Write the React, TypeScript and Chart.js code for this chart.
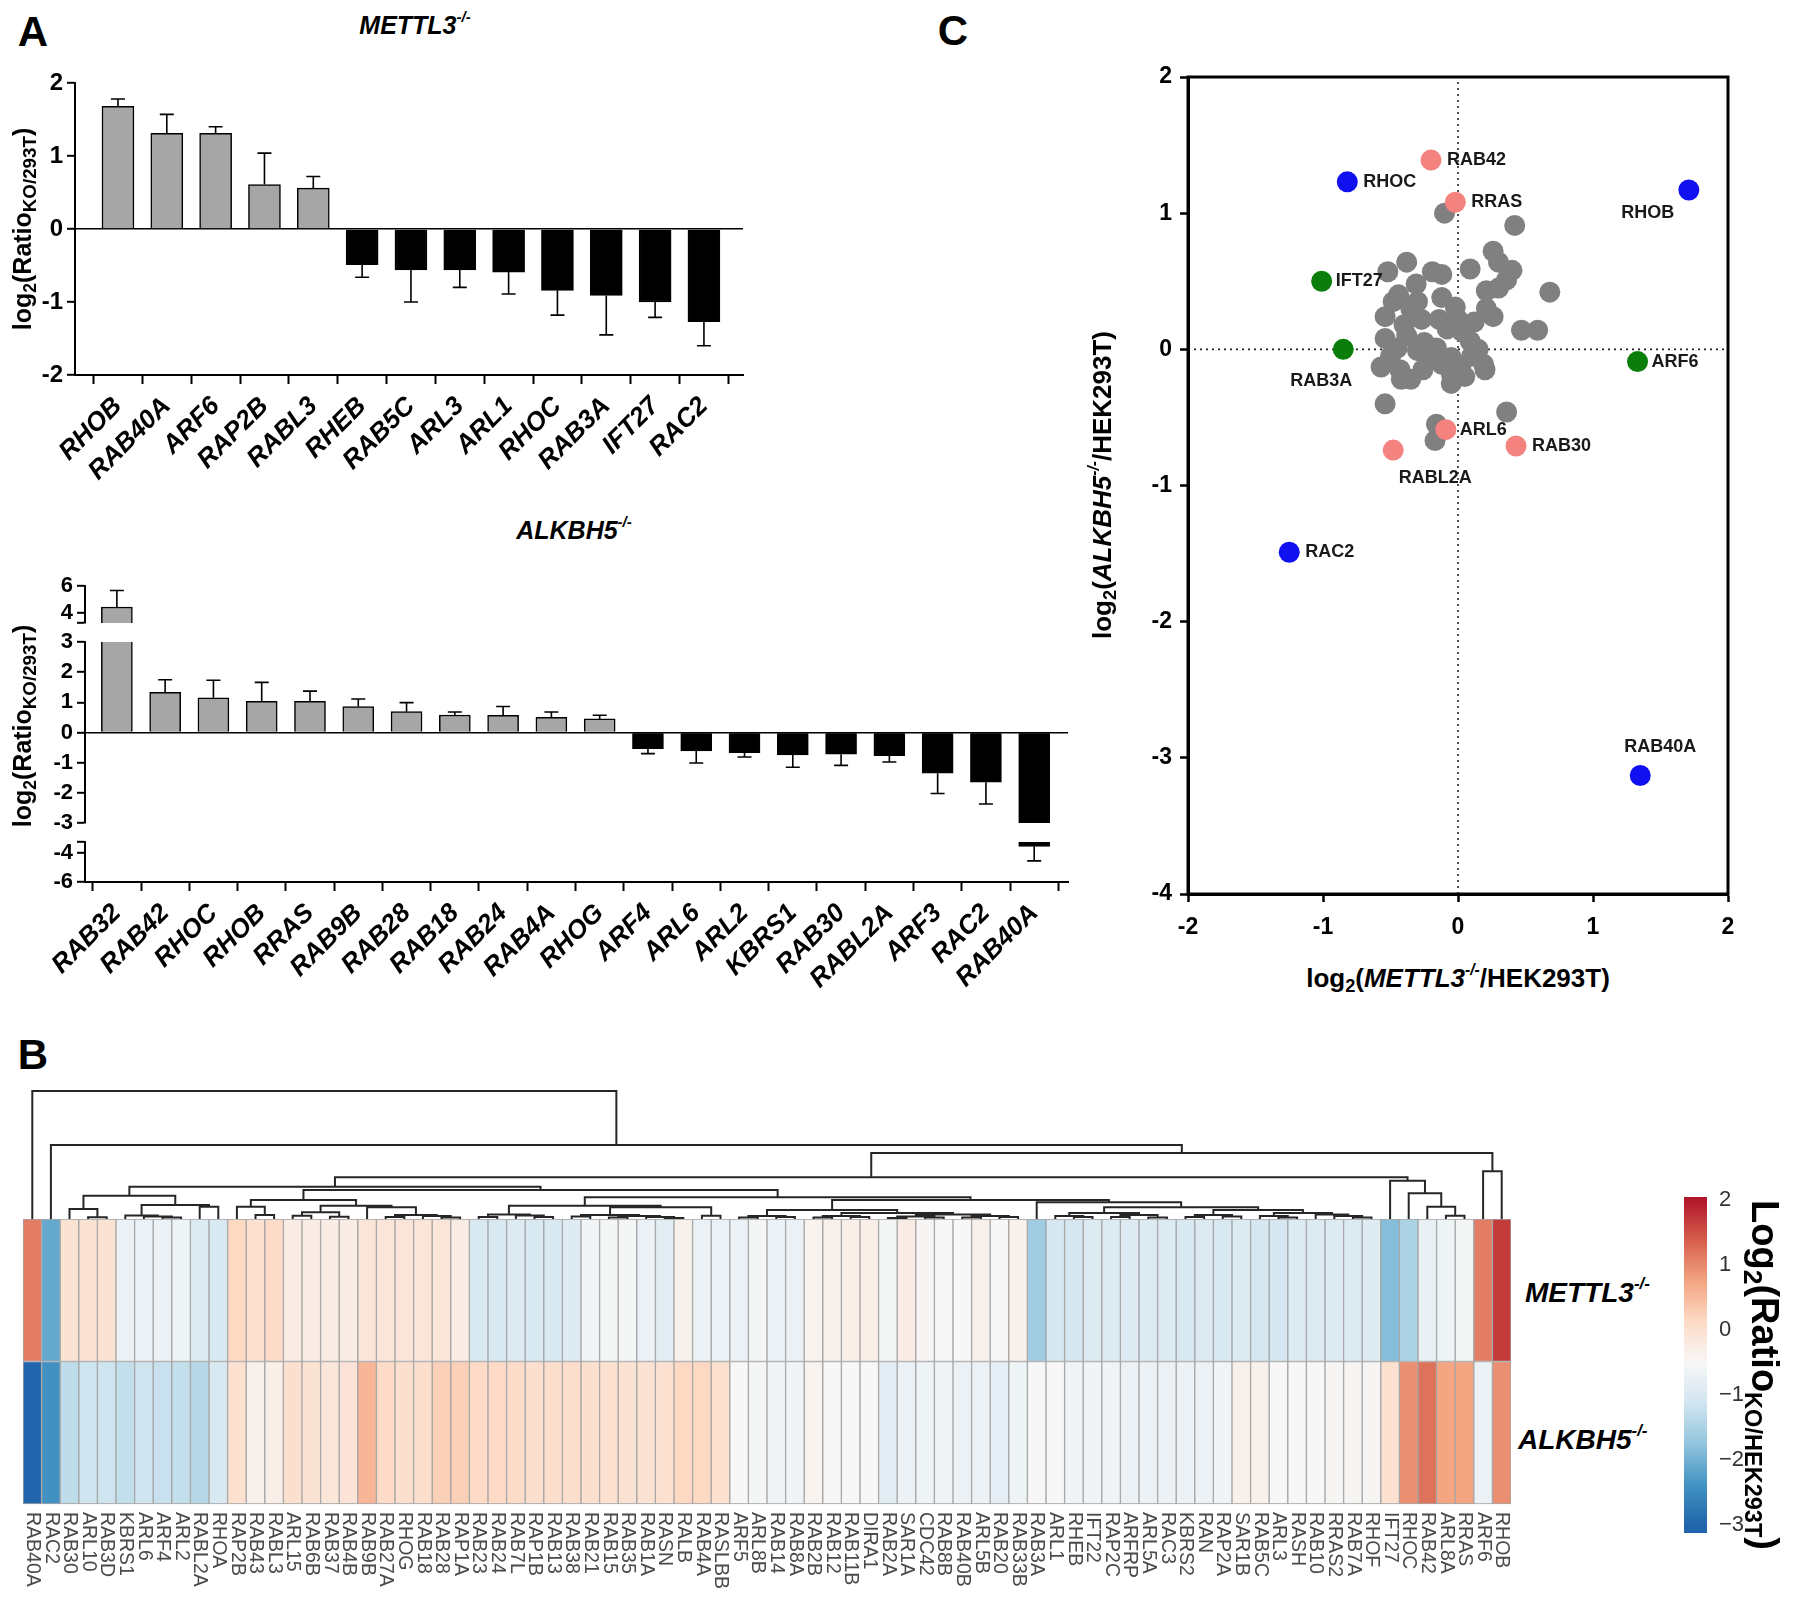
import React, { useEffect, useRef } from 'react';
import { Chart, registerables } from 'chart.js';

Chart.register(...registerables);

const FONT = '"Liberation Sans", Arial, Helvetica, sans-serif';

// ---------------- Panel A (top): METTL3-/- ----------------
const mettl3Genes = ['RHOB', 'RAB40A', 'ARF6', 'RAP2B', 'RABL3', 'RHEB', 'RAB5C', 'ARL3', 'ARL1', 'RHOC', 'RAB3A', 'IFT27', 'RAC2'];
const mettl3Values = [1.68, 1.31, 1.31, 0.61, 0.56, -0.49, -0.56, -0.56, -0.59, -0.84, -0.91, -1.0, -1.27];
const mettl3ErrEnds = [1.78, 1.57, 1.4, 1.04, 0.72, -0.66, -1.0, -0.8, -0.89, -1.18, -1.45, -1.21, -1.6];

// ---------------- Panel A (bottom): ALKBH5-/- ----------------
const alkbh5Genes = ['RAB32', 'RAB42', 'RHOC', 'RHOB', 'RRAS', 'RAB9B', 'RAB28', 'RAB18', 'RAB24', 'RAB4A', 'RHOG', 'ARF4', 'ARL6', 'ARL2', 'KBRS1', 'RAB30', 'RABL2A', 'ARF3', 'RAC2', 'RAB40A'];
const alkbh5Values = [4.44, 1.33, 1.15, 1.03, 1.03, 0.86, 0.69, 0.58, 0.57, 0.5, 0.45, -0.54, -0.61, -0.67, -0.74, -0.72, -0.77, -1.35, -1.65, -3.55];
const alkbh5ErrEnds = [5.66, 1.75, 1.73, 1.66, 1.37, 1.11, 0.99, 0.68, 0.86, 0.68, 0.57, -0.7, -1.01, -0.81, -1.15, -1.09, -0.98, -2.02, -2.37, -4.55];

// ---------------- Panel C: scatter ----------------
const grayPoints: [number, number][] = [
  [-0.1, 1.0], [0.42, 0.91], [0.26, 0.72], [0.3, 0.64], [0.4, 0.58], [0.36, 0.51], [0.09, 0.59],
  [-0.52, 0.57], [-0.38, 0.64], [-0.19, 0.57], [-0.12, 0.55], [-0.31, 0.48], [-0.44, 0.4], [-0.12, 0.38],
  [0.21, 0.43], [0.68, 0.42], [-0.54, 0.24], [-0.27, 0.22], [-0.14, 0.22], [-0.02, 0.31], [0.0, 0.22],
  [0.21, 0.3], [0.26, 0.24], [0.47, 0.14], [0.59, 0.14], [-0.54, 0.08], [-0.38, 0.1], [-0.45, 0.01],
  [-0.3, -0.01], [-0.16, 0.01], [0.03, 0.13], [0.09, 0.06], [0.12, -0.04], [-0.05, -0.06], [-0.12, -0.11],
  [-0.57, -0.13], [-0.43, -0.15], [-0.26, -0.15], [-0.35, -0.22], [-0.42, -0.22], [-0.05, -0.25], [0.05, -0.2],
  [0.19, -0.11], [0.02, -0.13], [-0.54, -0.4], [0.36, -0.46], [-0.16, -0.55], [-0.17, -0.67], [-0.48, 0.35],
  [-0.25, 0.05], [-0.2, -0.05], [0.1, -0.05], [0.15, 0.0], [-0.35, 0.3], [0.05, 0.12], [-0.08, 0.15],
  [0.2, -0.15], [-0.5, -0.05], [-0.3, 0.35], [0.3, 0.45], [-0.05, -0.18], [-0.4, 0.18], [0.12, 0.2]
];
const hlNames = ['RHOC', 'RHOB', 'RAC2', 'RAB40A', 'RAB42', 'RRAS', 'ARL6', 'RAB30', 'RABL2A', 'IFT27', 'RAB3A', 'ARF6'];
const hlX = [-0.82, 1.71, -1.25, 1.35, -0.2, -0.02, -0.09, 0.43, -0.48, -1.01, -0.85, 1.33];
const hlY = [1.23, 1.17, -1.49, -3.13, 1.39, 1.08, -0.59, -0.71, -0.74, 0.5, 0.0, -0.09];
const hlGroup = ['blue', 'blue', 'blue', 'blue', 'pink', 'pink', 'pink', 'pink', 'pink', 'green', 'green', 'green'];
// label placement (style only): [dx, dy, align]
const hlLabelPlace: [number, number, string][] = [
  [16, 0, 'left'], [-41, 23, 'center'], [16, 0, 'left'], [20, -29, 'center'], [16, 0, 'left'], [16, 0, 'left'],
  [14, 0, 'left'], [16, 0, 'left'], [42, 28, 'center'], [14, 0, 'left'], [-22, 32, 'center'], [14, 0, 'left']
];

// ---------------- Panel B: heatmap ----------------
const heatGenes = [
  'RAB40A', 'RAC2', 'RAB30', 'ARL10', 'RAB3D', 'KBRS1', 'ARL6', 'ARF4', 'ARL2', 'RABL2A',
  'RHOA', 'RAP2B', 'RAB43', 'RABL3', 'ARL15', 'RAB6B', 'RAB37', 'RAB4B', 'RAB9B', 'RAB27A',
  'RHOG', 'RAB18', 'RAB28', 'RAP1A', 'RAB23', 'RAB24', 'RAB7L', 'RAP1B', 'RAB13', 'RAB38',
  'RAB21', 'RAB15', 'RAB35', 'RAB1A', 'RASN', 'RALB', 'RAB4A', 'RASLBB', 'ARF5', 'ARL8B',
  'RAB14', 'RAB8A', 'RAB2B', 'RAB12', 'RAB11B', 'DIRA1', 'RAB2A', 'SAR1A', 'CDC42', 'RAB8B',
  'RAB40B', 'ARL5B', 'RAB20', 'RAB33B', 'RAB3A', 'ARL1', 'RHEB', 'IFT22', 'RAP2C', 'ARFRP',
  'ARL5A', 'RAC3', 'KBRS2', 'RAN', 'RAP2A', 'SAR1B', 'RAB5C', 'ARL3', 'RASH', 'RAB10',
  'RRAS2', 'RAB7A', 'RHOF', 'IFT27', 'RHOC', 'RAB42', 'ARL8A', 'RRAS', 'ARF6', 'RHOB'
];
const heatMettl3 = [
  1.1, -2.1, -0.05, -0.05, -0.05, -0.7, -0.7, -0.7, -0.65, -0.95,
  -1.0, 0.15, 0.0, 0.1, -0.25, -0.25, -0.25, -0.25, -0.1, -0.1,
  -0.1, -0.1, -0.1, -0.25, -1.0, -1.0, -0.95, -1.0, -1.0, -0.9,
  -0.6, -0.55, -0.55, -0.7, -0.85, -0.35, -0.7, -0.7, -0.7, -0.55,
  -0.7, -0.7, -0.4, -0.35, -0.3, -0.3, -0.55, -0.25, -0.45, -0.5,
  -0.5, -0.35, -0.5, -0.35, -1.6, -1.05, -1.05, -0.95, -0.95, -0.9,
  -0.95, -0.95, -1.0, -0.95, -1.0, -0.95, -1.05, -1.05, -0.95, -0.95,
  -0.95, -0.95, -0.9, -1.85, -1.5, -0.75, -0.65, -0.55, 1.1, 1.7
];
const heatAlkbh5 = [
  -3.0, -2.4, -1.3, -1.15, -1.15, -1.25, -1.15, -1.2, -1.25, -1.4,
  -1.0, 0.0, -0.35, -0.3, 0.02, -0.05, -0.12, -0.08, 0.55, 0.12,
  0.02, 0.05, 0.25, 0.25, 0.12, 0.12, 0.08, 0.04, 0.05, 0.05,
  0.02, 0.0, -0.05, -0.05, 0.0, 0.15, 0.15, 0.0, -0.5, -0.55,
  -0.6, -0.6, -0.4, -0.5, -0.5, -0.5, -0.85, -0.7, -0.65, -0.6,
  -0.7, -0.7, -0.8, -0.65, -0.5, -0.5, -0.6, -0.6, -0.6, -0.7,
  -0.7, -0.7, -0.7, -0.7, -0.6, -0.35, -0.35, -0.5, -0.5, -0.5,
  -0.45, -0.45, -0.45, 0.0, 0.95, 1.2, 0.75, 0.75, -0.7, 0.95
];
// dendrogram: [height, left, right]; leaves are column indices
type DNode = number | [number, DNode, DNode];
const dendrogram: DNode =
  [128, 0,
    [74, 1,
      [66,
        [41.7,
          [32.3,
            [23.3,
              [10, 2, [1.7, 3, 4]],
              [14, [3.5, 5, [2.5, 6, [1.5, 7, 8]]], [12.3, 9, 10]]],
            [29,
              [19,
                [12.3, 11, [4, 12, 13]],
                [13.3,
                  [6.7, [3.3, 14, 15], [2.3, 16, 17]],
                  [11.7, 18, [4, [2, 19, 20], [3, 21, [1.5, 22, 23]]]]]],
              [21.7,
                [13.3,
                  [4.5, [2, 24, 25], [3.5, 26, [2, 27, 28]]],
                  [11.7, [4, [2.5, 29, 30], [3, [1.5, 31, 32], [2, 33, [1, 34, 35]]]], [3.3, 36, 37]]],
                [19,
                  [9, [3, [1.5, 38, 39], [2, 40, 41]],
                    [6, [3, [1.5, 42, 43], [2, 44, 45]], [4.5, [2.5, [1, 46, 47], [1.5, 48, 49]], [3, [1.5, 50, 51], [2, 52, 53]]]]],
                  [16.7, 54,
                    [11.7,
                      [6, [3, 55, [2, 56, 57]], [4, [2, 58, 59], [1.5, 60, 61]]],
                      [9, [4, [2, 62, 63], [2.5, 64, 65]], [6, [3, 66, [1.5, 67, 68]], [4.5, 69, [3, 70, [1.5, 71, 72]]]]]]]]]]],
          [38.3, 73, [25.7, 74, [12.3, 75, [3.3, 76, 77]]]]],
        [47.7, 78, 79]]]];
const colorbarTicks = [-3, -2, -1, 0, 1, 2];

// ---------------- colour map (RdBu, reversed) ----------------
const RDBU = ['#2166ac', '#4393c3', '#92c5de', '#d1e5f0', '#f7f7f7', '#fddbc7', '#f4a582', '#d6604d', '#b2182b'];
const CMIN = -3;
const CMAX = 2;
function hexToRgb(h: string) {
  return [parseInt(h.slice(1, 3), 16), parseInt(h.slice(3, 5), 16), parseInt(h.slice(5, 7), 16)];
}
function colorFor(v: number) {
  const t = Math.max(0, Math.min(1, (v - CMIN) / (CMAX - CMIN))) * (RDBU.length - 1);
  const i = Math.min(RDBU.length - 2, Math.floor(t));
  const f = t - i;
  const a = hexToRgb(RDBU[i]);
  const b = hexToRgb(RDBU[i + 1]);
  const c = a.map((x, k) => Math.round(x + (b[k] - x) * f));
  return `rgb(${c[0]},${c[1]},${c[2]})`;
}

// ---------------- helpers ----------------
const GRAY_BAR = '#a6a6a6';
const baseOpts = {
  responsive: false,
  animation: false,
  devicePixelRatio: 1,
  events: [],
};

// keep the chart area exactly where the layout padding puts it
function zeroPad(s: any) {
  s.paddingTop = 0;
  s.paddingBottom = 0;
  s.paddingLeft = 0;
  s.paddingRight = 0;
}

function ChartBox({ left, top, width, height, make }: any) {
  const ref = useRef<HTMLCanvasElement | null>(null);
  useEffect(() => {
    if (!ref.current) return;
    const chart = new Chart(ref.current, make());
    return () => chart.destroy();
  }, []);
  return (
    <canvas
      ref={ref}
      width={width}
      height={height}
      style={{ position: 'absolute', left, top, width, height }}
    />
  );
}

function errorBars(values: number[], ends: number[], cap: number) {
  return {
    id: 'errorBars',
    afterDatasetsDraw(chart: any) {
      const { ctx, chartArea: a, scales } = chart;
      ctx.save();
      ctx.beginPath();
      ctx.rect(a.left, a.top - 1, a.right - a.left, a.bottom - a.top + 2);
      ctx.clip();
      ctx.strokeStyle = '#000';
      ctx.lineWidth = 1.6;
      values.forEach((v, i) => {
        const x = scales.x.getPixelForValue(i);
        const y0 = scales.y.getPixelForValue(v);
        const y1 = scales.y.getPixelForValue(ends[i]);
        ctx.beginPath();
        ctx.moveTo(x, y0);
        ctx.lineTo(x, y1);
        ctx.moveTo(x - cap, y1);
        ctx.lineTo(x + cap, y1);
        ctx.stroke();
      });
      ctx.restore();
    },
  };
}

function barSegment(p: any) {
  return () => ({
    type: 'bar',
    data: {
      datasets: [
        {
          data: p.values.map((v: number, i: number) => ({ x: i, y: v })),
          backgroundColor: p.values.map((v: number) => (v > 0 ? GRAY_BAR : '#000')),
          borderColor: '#000',
          borderWidth: 1.5,
          barThickness: p.barThickness,
          clip: 0,
        },
      ],
    },
    options: {
      ...baseOpts,
      layout: { padding: p.pad, autoPadding: false },
      plugins: { legend: { display: false }, tooltip: { enabled: false } },
      scales: {
        x: {
          type: 'linear',
          display: p.showX,
          offset: false,
          min: p.xMin,
          max: p.xMax,
          afterBuildTicks: (s: any) => {
            s.ticks = p.names.map((_: string, i: number) => ({ value: i }));
          },
          afterFit: (s: any) => {
            s.height = p.showX ? p.xHeight : 0;
            zeroPad(s);
          },
          ticks: {
            autoSkip: false,
            minRotation: 45,
            maxRotation: 45,
            padding: 7,
            color: '#000',
            font: { family: FONT, size: 26, weight: 'bold', style: 'italic' },
            callback: (v: number) => p.names[v] ?? '',
          },
          grid: { drawOnChartArea: false, drawTicks: true, tickLength: 9, tickWidth: 2, tickColor: '#000' },
          border: { display: true, color: '#000', width: 2 },
        },
        y: {
          type: 'linear',
          min: p.yMin,
          max: p.yMax,
          afterBuildTicks: (s: any) => {
            s.ticks = p.yTicks.map((v: number) => ({ value: v }));
          },
          afterFit: (s: any) => {
            s.width = p.yWidth;
            zeroPad(s);
          },
          ticks: {
            autoSkip: false,
            padding: 4,
            color: '#000',
            font: { family: FONT, size: p.tickFont, weight: 'bold' },
            callback: (v: number) => (Number.isInteger(v) ? String(v) : ''),
          },
          grid: {
            drawOnChartArea: true,
            drawTicks: true,
            tickLength: 8,
            tickWidth: 2,
            tickColor: '#000',
            lineWidth: 1.6,
            color: (c: any) => (c.tick && c.tick.value === 0 ? '#000' : 'rgba(0,0,0,0)'),
          },
          border: { display: true, color: '#000', width: 2 },
        },
      },
    },
    plugins: [errorBars(p.values, p.ends, 7)],
  });
}

// ---------------- Panel C config ----------------
const GROUP_COLORS: Record<string, string> = { blue: '#1010f0', pink: '#f4827f', green: '#0b7d0b' };

function scatterConfig() {
  const groupSet = (g: string) => ({
    data: hlX.map((x, i) => ({ x, y: hlY[i] })).filter((_, i) => hlGroup[i] === g),
    backgroundColor: GROUP_COLORS[g],
    borderColor: GROUP_COLORS[g],
    pointRadius: 10.5,
    pointBorderWidth: 0,
  });
  const labelPlugin = {
    id: 'pointLabels',
    afterDatasetsDraw(chart: any) {
      const { ctx, scales } = chart;
      ctx.save();
      ctx.font = `bold 18px ${FONT}`;
      ctx.fillStyle = '#1a1a1a';
      ctx.textBaseline = 'middle';
      hlNames.forEach((n, i) => {
        const [dx, dy, al] = hlLabelPlace[i];
        ctx.textAlign = al;
        ctx.fillText(n, scales.x.getPixelForValue(hlX[i]) + dx, scales.y.getPixelForValue(hlY[i]) + dy);
      });
      ctx.restore();
    },
  };
  const framePlugin = {
    id: 'frame',
    afterDraw(chart: any) {
      const { ctx, chartArea: a } = chart;
      ctx.save();
      ctx.strokeStyle = '#000';
      ctx.lineWidth = 3;
      ctx.strokeRect(a.left, a.top, a.right - a.left, a.bottom - a.top);
      ctx.restore();
    },
  };
  const axisCommon = {
    ticks: { stepSize: 1, autoSkip: false, color: '#000', font: { family: FONT, size: 23, weight: 'bold' } },
    grid: { drawOnChartArea: false, drawTicks: true, tickLength: 8, tickWidth: 2.5, tickColor: '#000' },
    border: { display: true, color: '#000', width: 3 },
  };
  return {
    type: 'scatter',
    data: {
      datasets: [
        groupSet('blue'),
        groupSet('pink'),
        groupSet('green'),
        {
          data: grayPoints.map(([x, y]) => ({ x, y })),
          backgroundColor: '#808080',
          borderColor: '#808080',
          pointRadius: 10.5,
          pointBorderWidth: 0,
        },
        {
          data: [{ x: -2, y: 0 }, { x: 2, y: 0 }],
          showLine: true,
          borderColor: '#222',
          borderWidth: 1.6,
          borderDash: [2, 4],
          pointRadius: 0,
        },
        {
          data: [{ x: 0, y: -4 }, { x: 0, y: 2 }],
          showLine: true,
          borderColor: '#222',
          borderWidth: 1.6,
          borderDash: [2, 4],
          pointRadius: 0,
        },
      ],
    },
    options: {
      ...baseOpts,
      layout: { padding: { left: 0, top: 17, right: 72, bottom: 0 }, autoPadding: false },
      plugins: { legend: { display: false }, tooltip: { enabled: false } },
      scales: {
        x: {
          type: 'linear',
          min: -2,
          max: 2,
          ...axisCommon,
          ticks: { ...axisCommon.ticks, padding: 12 },
          afterFit: (s: any) => {
            s.height = 51;
            zeroPad(s);
          },
        },
        y: {
          type: 'linear',
          min: -4,
          max: 2,
          ...axisCommon,
          ticks: { ...axisCommon.ticks, padding: 8 },
          afterFit: (s: any) => {
            s.width = 68;
            zeroPad(s);
          },
        },
      },
    },
    plugins: [labelPlugin, framePlugin],
  };
}

// ---------------- Panel B configs ----------------
function heatmapConfig() {
  const geneLabels = {
    id: 'geneLabels',
    afterDraw(chart: any) {
      const { ctx, chartArea: a, scales } = chart;
      ctx.save();
      ctx.font = `19.5px ${FONT}`;
      ctx.fillStyle = '#4a4a4a';
      ctx.textAlign = 'left';
      ctx.textBaseline = 'middle';
      (chart.data.labels as string[]).forEach((lab, i) => {
        ctx.save();
        ctx.translate(scales.x.getPixelForValue(i), a.bottom + 8);
        ctx.rotate(Math.PI / 2);
        ctx.fillText(lab, 0, 0);
        ctx.restore();
      });
      ctx.restore();
    },
  };
  const cell = {
    borderColor: '#a4a4a4',
    borderWidth: 1,
    borderSkipped: false,
    categoryPercentage: 1,
    barPercentage: 1,
    grouped: false,
    clip: false,
  };
  return {
    type: 'bar',
    data: {
      labels: heatGenes,
      datasets: [
        { ...cell, data: heatMettl3.map(() => [1, 2]), backgroundColor: heatMettl3.map(colorFor) },
        { ...cell, data: heatAlkbh5.map(() => [0, 1]), backgroundColor: heatAlkbh5.map(colorFor) },
      ],
    },
    options: {
      ...baseOpts,
      layout: { padding: { left: 0, top: 0, right: 0, bottom: 100 }, autoPadding: false },
      plugins: { legend: { display: false }, tooltip: { enabled: false } },
      scales: {
        x: { type: 'category', display: false, offset: true },
        y: { type: 'linear', display: false, min: 0, max: 2 },
      },
    },
    plugins: [geneLabels],
  };
}

function dendroConfig() {
  const segs: any[] = [];
  const walk = (n: DNode): { x: number; h: number } => {
    if (typeof n === 'number') return { x: n, h: 0 };
    const [h, l, r] = n;
    const L = walk(l);
    const R = walk(r);
    segs.push({ x: L.x, y: L.h }, { x: L.x, y: h }, { x: R.x, y: h }, { x: R.x, y: R.h }, { x: R.x, y: null });
    return { x: (L.x + R.x) / 2, h };
  };
  walk(dendrogram);
  return {
    type: 'scatter',
    data: {
      datasets: [
        {
          data: segs,
          showLine: true,
          spanGaps: false,
          borderColor: '#262626',
          borderWidth: 2,
          pointRadius: 0,
          clip: false,
        },
      ],
    },
    options: {
      ...baseOpts,
      layout: { padding: 0, autoPadding: false },
      plugins: { legend: { display: false }, tooltip: { enabled: false } },
      scales: {
        x: { type: 'linear', display: false, offset: false, min: -0.5, max: heatGenes.length - 0.5 },
        y: { type: 'linear', display: false, min: 0, max: 136 },
      },
    },
  };
}

function colorbarConfig() {
  const grad = {
    id: 'grad',
    beforeDatasetsDraw(chart: any) {
      const { ctx, chartArea: a, scales } = chart;
      const g = ctx.createLinearGradient(0, a.top, 0, a.bottom);
      const n = RDBU.length;
      RDBU.forEach((c, k) => {
        const v = CMIN + ((CMAX - CMIN) * k) / (n - 1);
        const off = (scales.y.getPixelForValue(v) - a.top) / (a.bottom - a.top);
        g.addColorStop(Math.max(0, Math.min(1, off)), c);
      });
      ctx.save();
      ctx.fillStyle = g;
      ctx.fillRect(a.left, a.top, a.right - a.left, a.bottom - a.top);
      ctx.restore();
    },
  };
  return {
    type: 'scatter',
    data: { datasets: [] },
    options: {
      ...baseOpts,
      layout: { padding: { left: 24, top: 12, right: 33, bottom: 12 }, autoPadding: false },
      plugins: { legend: { display: false }, tooltip: { enabled: false } },
      scales: {
        x: { type: 'linear', display: false, min: 0, max: 1 },
        y: {
          type: 'linear',
          position: 'right',
          min: -3.12,
          max: 2.05,
          afterBuildTicks: (s: any) => {
            s.ticks = colorbarTicks.map((v) => ({ value: v }));
          },
          afterFit: (s: any) => {
            s.width = 40;
            zeroPad(s);
          },
          ticks: {
            autoSkip: false,
            padding: 12,
            color: '#333',
            font: { family: FONT, size: 22 },
            callback: (v: number) => (v < 0 ? '\u2212' + Math.abs(v) : String(v)),
          },
          grid: { display: false, drawTicks: false },
          border: { display: false },
        },
      },
    },
    plugins: [grad],
  };
}

// ---------------- text helpers ----------------
const Sub = ({ children, s = 0.7 }: any) => (
  <span style={{ fontSize: `${s}em`, verticalAlign: '-0.3em', lineHeight: 0 }}>{children}</span>
);
const Sup = ({ children, s = 0.6 }: any) => (
  <span style={{ fontSize: `${s}em`, verticalAlign: '0.75em', lineHeight: 0 }}>{children}</span>
);
function Label({ x, y, size, italic = false, weight = 'bold', rotate = 0, align = 'center', children }: any) {
  const tx = align === 'left' ? '0' : '-50%';
  return (
    <div
      style={{
        position: 'absolute',
        left: x,
        top: y,
        transform: `translate(${tx}, -50%) rotate(${rotate}deg)`,
        fontSize: size,
        fontWeight: weight,
        fontStyle: italic ? 'italic' : 'normal',
        whiteSpace: 'nowrap',
        lineHeight: 1,
        color: '#000',
      }}
    >
      {children}
    </div>
  );
}

export default function App() {
  const altCommon = {
    names: alkbh5Genes,
    values: alkbh5Values,
    ends: alkbh5ErrEnds,
    xMin: -0.66,
    xMax: 19.7,
    yWidth: 85,
    barThickness: 31,
    tickFont: 22,
    xHeight: 128,
  };
  return (
    <div
      style={{
        position: 'absolute',
        left: 0,
        top: 0,
        width: 1800,
        height: 1604,
        background: '#fff',
        overflow: 'hidden',
        fontFamily: FONT,
      }}
    >
      {/* Panel A top */}
      <ChartBox
        left={0}
        top={60}
        width={760}
        height={440}
        make={barSegment({
          names: mettl3Genes,
          values: mettl3Values,
          ends: mettl3ErrEnds,
          xMin: -0.88,
          xMax: 12.8,
          yMin: -2,
          yMax: 2,
          yTicks: [-2, -1, 0, 1, 2],
          showX: true,
          pad: { left: 0, top: 23, right: 17, bottom: 0 },
          yWidth: 75,
          xHeight: 125,
          barThickness: 32,
          tickFont: 24,
        })}
      />
      {/* Panel A bottom: broken y axis in three segments */}
      <ChartBox
        left={0}
        top={570}
        width={1080}
        height={55}
        make={barSegment({
          ...altCommon,
          yMin: 3.25,
          yMax: 6,
          yTicks: [3.25, 4, 6],
          showX: false,
          pad: { left: 0, top: 16, right: 12, bottom: 2 },
        })}
      />
      <ChartBox
        left={0}
        top={628}
        width={1080}
        height={205}
        make={barSegment({
          ...altCommon,
          yMin: -3,
          yMax: 3,
          yTicks: [-3, -2, -1, 0, 1, 2, 3],
          showX: false,
          pad: { left: 0, top: 14, right: 12, bottom: 10 },
        })}
      />
      <ChartBox
        left={0}
        top={830}
        width={1080}
        height={180}
        make={barSegment({
          ...altCommon,
          yMin: -6,
          yMax: -3.25,
          yTicks: [-6, -4, -3.25],
          showX: true,
          pad: { left: 0, top: 12, right: 12, bottom: 0 },
        })}
      />
      {/* Panel C */}
      <ChartBox left={1120} top={60} width={680} height={885} make={scatterConfig} />
      {/* Panel B */}
      <ChartBox left={23} top={1083} width={1488} height={136} make={dendroConfig} />
      <ChartBox left={23} top={1219} width={1488} height={385} make={heatmapConfig} />
      <ChartBox left={1660} top={1185} width={120} height={360} make={colorbarConfig} />

      {/* Text */}
      <Label x={33} y={32} size={42}>A</Label>
      <Label x={33} y={1055} size={42}>B</Label>
      <Label x={953} y={31} size={42}>C</Label>
      <Label x={415} y={25} size={25} italic>
        METTL3<Sup>-/-</Sup>
      </Label>
      <Label x={574} y={530} size={25} italic>
        ALKBH5<Sup>-/-</Sup>
      </Label>
      <Label x={22} y={229} size={25} rotate={-90}>
        log<Sub>2</Sub>(Ratio<Sub s={0.75}>KO/293T</Sub>)
      </Label>
      <Label x={22} y={726} size={25} rotate={-90}>
        log<Sub>2</Sub>(Ratio<Sub s={0.75}>KO/293T</Sub>)
      </Label>
      <Label x={1458} y={978} size={26}>
        log<Sub>2</Sub>(<i>METTL3</i>
        <Sup>
          <i>-/-</i>
        </Sup>
        /HEK293T)
      </Label>
      <Label x={1102} y={485} size={26} rotate={-90}>
        log<Sub>2</Sub>(<i>ALKBH5</i>
        <Sup>
          <i>-/-</i>
        </Sup>
        /HEK293T)
      </Label>
      <Label x={1525} y={1293} size={28} italic align="left">
        METTL3<Sup>-/-</Sup>
      </Label>
      <Label x={1518} y={1440} size={28} italic align="left">
        ALKBH5<Sup>-/-</Sup>
      </Label>
      <Label x={1765} y={1375} size={38} rotate={90}>
        Log<Sub>2</Sub>(Ratio<Sub s={0.62}>KO/HEK293T</Sub>)
      </Label>
    </div>
  );
}
